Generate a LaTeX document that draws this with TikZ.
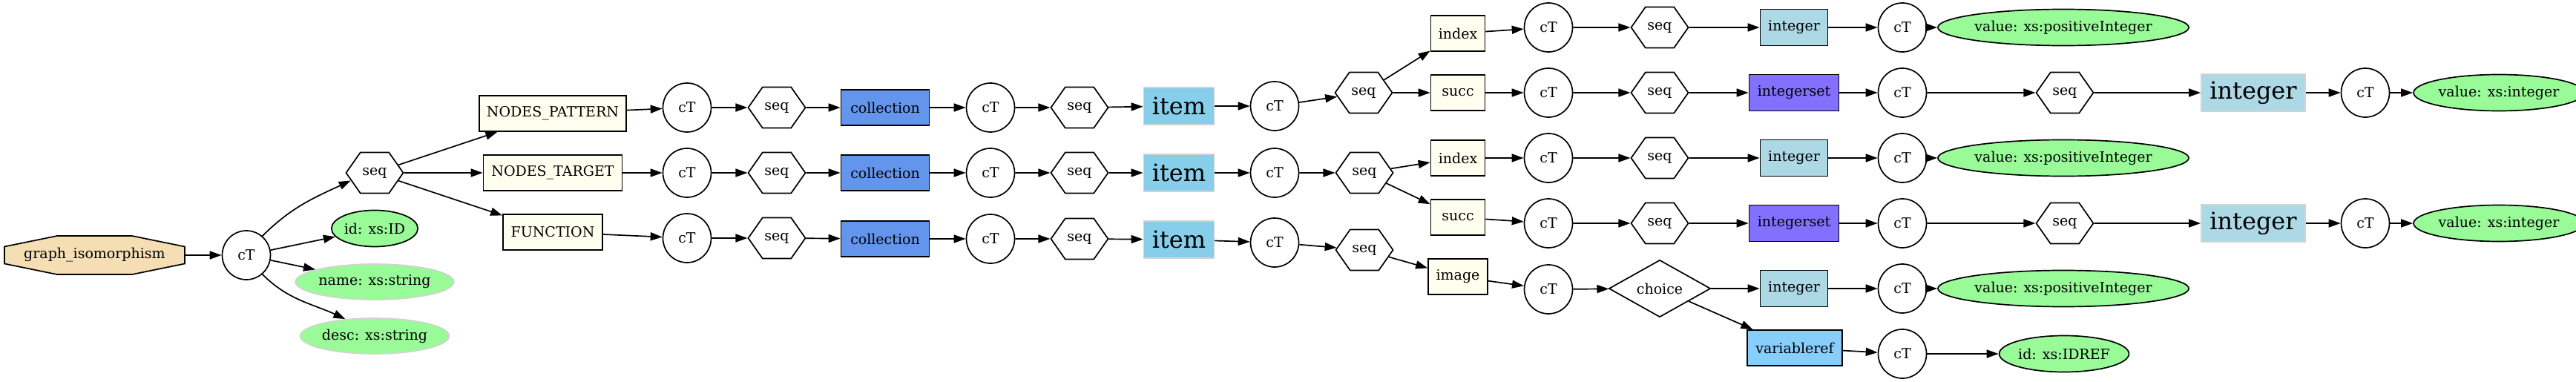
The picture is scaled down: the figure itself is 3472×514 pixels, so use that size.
\documentclass[tikz,border=0pt]{standalone}
\usepackage{fontspec}
\setmainfont{DejaVu Serif}
\usetikzlibrary{shapes.geometric,shapes.symbols,arrows.meta}
\definecolor{wheatc}{HTML}{F5DEB3}
\definecolor{ivoryc}{HTML}{FFFFF0}
\definecolor{cornflowerc}{HTML}{6495ED}
\definecolor{skyc}{HTML}{87CEEB}
\definecolor{lightbluec}{HTML}{ADD8E6}
\definecolor{lslatec}{HTML}{8470FF}
\definecolor{lskyc}{HTML}{87CEFA}
\definecolor{palegreenc}{HTML}{98FB98}
\definecolor{lgreyc}{HTML}{D3D3D3}
\begin{document}
\begin{tikzpicture}[x=1pt,y=1pt,
  every node/.style={font=\fontsize{19}{22}\selectfont, inner sep=0pt, line width=1.7pt},
  ctn/.style={ellipse, draw, minimum width=65pt, minimum height=66pt},
  seqn/.style={signal, signal to=east and west, signal pointer angle=110, draw, minimum width=77pt, minimum height=55pt},
  boxn/.style={rectangle, draw, fill=ivoryc, minimum height=48pt},
  valn/.style={ellipse, draw, fill=palegreenc, minimum height=49pt},
  attrn/.style={ellipse, draw=lgreyc, fill=palegreenc, minimum height=48pt},
  colln/.style={rectangle, draw, fill=cornflowerc, minimum width=119pt, minimum height=48pt},
  itemn/.style={rectangle, draw=lgreyc, fill=skyc, minimum width=95pt, minimum height=50pt, font=\fontsize{32}{36}\selectfont},
  intn/.style={rectangle, draw, fill=lightbluec, minimum width=91pt, minimum height=49pt},
  intsetn/.style={rectangle, draw, fill=lslatec, minimum width=121pt, minimum height=49pt},
  bigintn/.style={rectangle, draw=lgreyc, fill=lightbluec, minimum width=140pt, minimum height=50pt, font=\fontsize{32}{36}\selectfont},
  choicen/.style={diamond, draw, minimum width=137pt, minimum height=67pt},
  edge/.style={-{Triangle[length=16pt,width=11pt]}, line width=1.7pt}
]
\useasboundingbox (0,0) rectangle (3472,-514);
% root octagon
\draw[fill=wheatc, line width=1.7pt] (6,-332.5) -- (77,-318) -- (178,-318) -- (249,-332.5) -- (249,-355.5) -- (178,-370) -- (77,-370) -- (6,-355.5) -- cycle;
\node[rectangle, minimum width=243pt, minimum height=52pt] (gi) at (127.5,-344) {graph\_isomorphism};
\node[ctn] (ct0) at (332,-344) {cT};
\node[seqn] (sq0) at (505,-233) {seq};
\node[valn, minimum width=113pt] (id0) at (505,-308) {id: xs:ID};
\node[attrn, minimum width=184pt] (nm0) at (505,-380) {name: xs:string};
\node[attrn, minimum width=174pt] (ds0) at (505,-453) {desc: xs:string};
\node[boxn, minimum width=198pt] (np) at (745,-153) {NODES\_PATTERN};
\node[boxn, minimum width=187pt] (nt) at (745,-233) {NODES\_TARGET};
\node[boxn, minimum width=134pt] (fn) at (745,-313) {FUNCTION};
% row A
\node[ctn] (a1) at (926,-145) {cT};
\node[seqn] (a2) at (1047,-145) {seq};
\node[colln] (a3) at (1193,-145) {collection};
\node[ctn] (a4) at (1335,-145) {cT};
\node[seqn] (a5) at (1455,-145) {seq};
\node[itemn] (a6) at (1589,-143) {item};
\node[ctn] (a7) at (1718,-143) {cT};
\node[seqn] (a8) at (1838,-125) {seq};
% row B
\node[ctn] (b1) at (926,-233) {cT};
\node[seqn] (b2) at (1047,-233) {seq};
\node[colln] (b3) at (1193,-233) {collection};
\node[ctn] (b4) at (1335,-233) {cT};
\node[seqn] (b5) at (1455,-233) {seq};
\node[itemn] (b6) at (1589,-233) {item};
\node[ctn] (b7) at (1718,-233) {cT};
\node[seqn] (b8) at (1839,-233) {seq};
% row C
\node[ctn] (c1) at (926,-321) {cT};
\node[seqn] (c2) at (1047,-321) {seq};
\node[colln] (c3) at (1193,-322) {collection};
\node[ctn] (c4) at (1335,-322) {cT};
\node[seqn] (c5) at (1455,-322) {seq};
\node[itemn] (c6) at (1589,-323) {item};
\node[ctn] (c7) at (1718,-327) {cT};
\node[seqn] (c8) at (1839,-337) {seq};
% A index
\node[boxn, minimum width=73pt] (ai) at (1965,-45) {index};
\node[ctn] (ai1) at (2087,-37) {cT};
\node[seqn] (ai2) at (2237,-37) {seq};
\node[intn] (ai3) at (2418,-37) {integer};
\node[ctn] (ai4) at (2564,-37) {cT};
\node[valn, minimum width=273pt] (ai5) at (2781,-37) {value: xs:positiveInteger};
% A succ
\node[boxn, minimum width=73pt] (as) at (1965,-125) {succ};
\node[ctn] (as1) at (2087,-125) {cT};
\node[seqn] (as2) at (2237,-125) {seq};
\node[intsetn] (as3) at (2418,-125) {integerset};
\node[ctn] (as4) at (2564,-125) {cT};
\node[seqn] (as5) at (2783,-125) {seq};
\node[bigintn] (as6) at (3037,-125) {integer};
\node[ctn] (as7) at (3188,-125) {cT};
\node[valn, minimum width=196pt] (as8) at (3368,-125) {value: xs:integer};
% B index
\node[boxn, minimum width=73pt] (bi) at (1965,-213) {index};
\node[ctn] (bi1) at (2087,-213) {cT};
\node[seqn] (bi2) at (2237,-213) {seq};
\node[intn] (bi3) at (2418,-213) {integer};
\node[ctn] (bi4) at (2564,-213) {cT};
\node[valn, minimum width=273pt] (bi5) at (2781,-213) {value: xs:positiveInteger};
% B succ
\node[boxn, minimum width=73pt] (bs) at (1965,-293) {succ};
\node[ctn] (bs1) at (2087,-301) {cT};
\node[seqn] (bs2) at (2237,-301) {seq};
\node[intsetn] (bs3) at (2418,-301) {integerset};
\node[ctn] (bs4) at (2564,-301) {cT};
\node[seqn] (bs5) at (2783,-301) {seq};
\node[bigintn] (bs6) at (3037,-301) {integer};
\node[ctn] (bs7) at (3188,-301) {cT};
\node[valn, minimum width=196pt] (bs8) at (3368,-301) {value: xs:integer};
% C image
\node[boxn, minimum width=80pt] (ci) at (1965,-373) {image};
\node[ctn] (ci1) at (2087,-390) {cT};
\node[choicen] (ci2) at (2237,-389) {choice};
\node[intn] (ci3) at (2418,-389) {integer};
\node[ctn] (ci4) at (2564,-389) {cT};
\node[valn, minimum width=273pt] (ci5) at (2781,-389) {value: xs:positiveInteger};
\node[rectangle, draw, fill=lskyc, minimum width=128pt, minimum height=48pt] (cv) at (2419,-469) {variableref};
\node[ctn] (cv1) at (2564,-477) {cT};
\node[valn, minimum width=153pt] (cv2) at (2782,-477) {id: xs:IDREF};
% edges
\foreach \u/\v in {gi/ct0, ct0/id0, ct0/nm0, sq0/np, sq0/nt, sq0/fn, np/a1, nt/b1, fn/c1,
  a1/a2, a2/a3, a3/a4, a4/a5, a5/a6, a6/a7, a7/a8, a8/ai, a8/as,
  b1/b2, b2/b3, b3/b4, b4/b5, b5/b6, b6/b7, b7/b8, b8/bi, b8/bs,
  c1/c2, c2/c3, c3/c4, c4/c5, c5/c6, c6/c7, c7/c8, c8/ci,
  ai/ai1, ai1/ai2, ai2/ai3, ai3/ai4, ai4/ai5,
  as/as1, as1/as2, as2/as3, as3/as4, as4/as5, as5/as6, as6/as7, as7/as8,
  bi/bi1, bi1/bi2, bi2/bi3, bi3/bi4, bi4/bi5,
  bs/bs1, bs1/bs2, bs2/bs3, bs3/bs4, bs4/bs5, bs5/bs6, bs6/bs7, bs7/bs8,
  ci/ci1, ci1/ci2, ci2/ci3, ci3/ci4, ci4/ci5, ci2/cv, cv/cv1, cv1/cv2}
  \draw[edge] (\u) -- (\v);
\draw[edge] (ct0.50) to[out=45, in=205] (sq0.198);
\draw[edge] (ct0.-50) to[out=-45, in=155] (ds0.150);
\end{tikzpicture}
\end{document}
